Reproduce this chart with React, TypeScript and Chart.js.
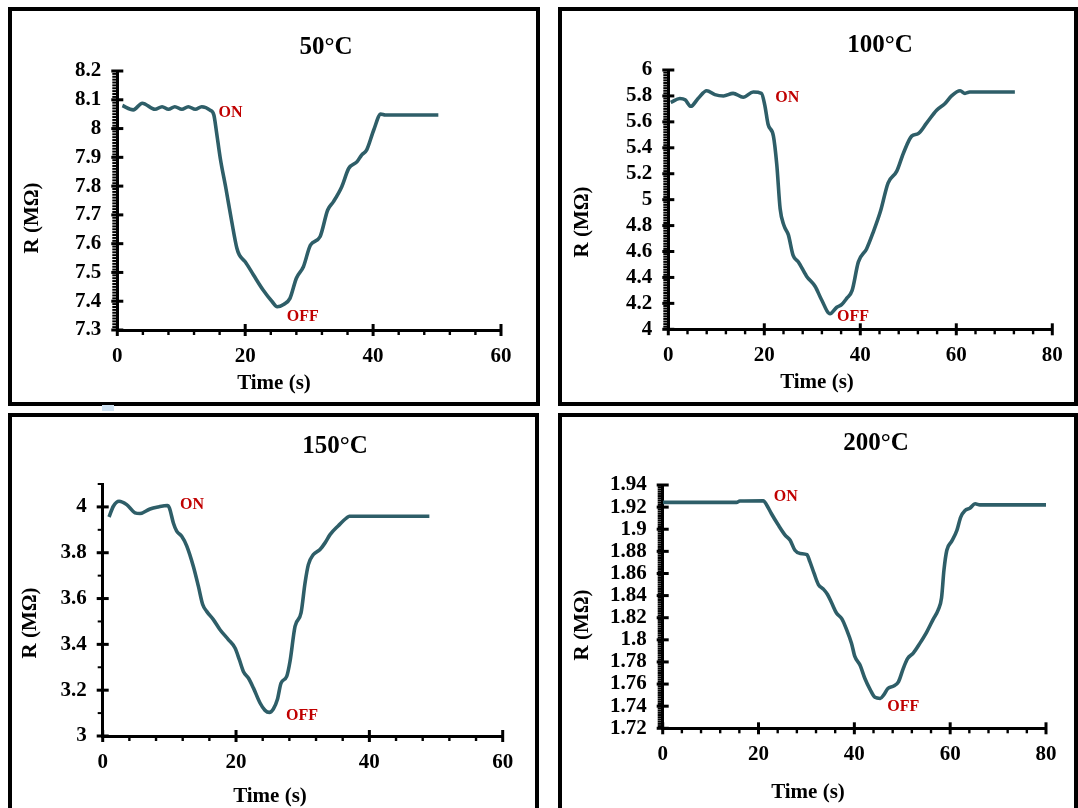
import React, { useEffect, useRef } from "react";
import { Chart, registerables } from "chart.js";

Chart.register(...registerables);

// ---------- data ----------
const time50 = [0.8, 2.5, 3.9, 5.9, 7.0, 8.0, 9.0, 10.1, 11.1, 12.2, 13.2, 14.5, 15.1, 15.5, 16.1, 17.0, 17.9, 18.7, 19.1, 20.0, 21.3, 22.8, 24.2, 25.0, 26.0, 27.0, 28.0, 29.1, 30.2, 31.7, 32.9, 33.8, 35.1, 36.2, 37.5, 38.2, 39.0, 40.1, 41.2, 41.9, 50.2];
const res50 = [8.08, 8.065, 8.088, 8.067, 8.076, 8.067, 8.076, 8.067, 8.076, 8.067, 8.076, 8.064, 8.047, 7.99, 7.897, 7.79, 7.676, 7.584, 7.56, 7.537, 7.491, 7.439, 7.399, 7.381, 7.389, 7.41, 7.48, 7.52, 7.595, 7.624, 7.717, 7.746, 7.798, 7.862, 7.885, 7.908, 7.926, 7.995, 8.05, 8.047, 8.047];

const time100 = [0.5, 2.4, 3.5, 4.7, 6.2, 8.0, 9.7, 11.5, 13.5, 15.6, 17.7, 19.4, 20.1, 20.8, 21.9, 22.6, 23.3, 24.1, 25.0, 26.0, 27.1, 28.8, 30.6, 31.9, 33.7, 35.1, 36.1, 37.2, 38.3, 39.6, 41.3, 42.7, 44.2, 45.8, 47.6, 49.0, 50.7, 52.1, 53.8, 55.9, 57.6, 59.0, 60.8, 61.8, 62.8, 72.2];
const res100 = [5.75, 5.78, 5.77, 5.72, 5.78, 5.84, 5.81, 5.8, 5.82, 5.79, 5.83, 5.82, 5.73, 5.58, 5.49, 5.27, 4.93, 4.8, 4.73, 4.57, 4.52, 4.41, 4.33, 4.23, 4.12, 4.17, 4.19, 4.24, 4.3, 4.52, 4.62, 4.75, 4.91, 5.13, 5.22, 5.36, 5.49, 5.51, 5.59, 5.69, 5.74, 5.8, 5.84, 5.82, 5.83, 5.83];

const time150 = [0.95, 1.6, 2.45, 3.6, 4.85, 5.6, 7.1, 8.35, 9.7, 10.0, 10.6, 11.1, 11.85, 12.6, 13.6, 14.35, 15.0, 15.6, 16.6, 17.6, 18.85, 19.85, 20.5, 21.1, 21.85, 22.6, 23.6, 24.35, 25.0, 25.6, 26.2, 26.75, 27.6, 28.1, 28.85, 29.75, 30.35, 30.85, 31.6, 32.6, 33.35, 34.1, 35.35, 36.6, 37.0, 49.0];
const res150 = [3.956, 4.003, 4.025, 4.01, 3.974, 3.971, 3.991, 4.0, 4.006, 3.996, 3.93, 3.894, 3.872, 3.83, 3.74, 3.654, 3.574, 3.544, 3.508, 3.464, 3.421, 3.384, 3.333, 3.282, 3.253, 3.21, 3.144, 3.112, 3.103, 3.118, 3.159, 3.231, 3.26, 3.326, 3.479, 3.537, 3.668, 3.748, 3.792, 3.814, 3.843, 3.879, 3.918, 3.952, 3.959, 3.959];

const time200 = [0, 15.4, 16.1, 21.0, 21.7, 22.7, 24.1, 25.5, 26.6, 27.6, 28.7, 30.1, 30.7, 31.6, 32.5, 33.5, 34.4, 35.3, 36.3, 37.4, 38.4, 39.4, 40.1, 41.2, 42.2, 43.3, 44.3, 45.4, 46.1, 47.0, 48.1, 49.2, 50.2, 51.1, 52.3, 53.7, 55.1, 56.5, 57.5, 58.2, 58.7, 59.3, 60.3, 61.4, 62.2, 63.1, 64.1, 65.2, 66.2, 80.0];
const res200 = [1.9243, 1.9243, 1.9255, 1.9258, 1.922, 1.914, 1.904, 1.895, 1.89, 1.881, 1.878, 1.877, 1.871, 1.86, 1.85, 1.846, 1.841, 1.833, 1.824, 1.819, 1.809, 1.797, 1.785, 1.777, 1.765, 1.755, 1.748, 1.747, 1.75, 1.756, 1.758, 1.762, 1.774, 1.783, 1.788, 1.797, 1.807, 1.819, 1.827, 1.838, 1.863, 1.881, 1.889, 1.899, 1.911, 1.917, 1.919, 1.923, 1.922, 1.922];

const titles = ["50°C", "100°C", "150°C", "200°C"];
const xAxisTitle = "Time (s)";
const yAxisTitle = "R (MΩ)";
const onLabel = "ON";
const offLabel = "OFF";

// ---------- styling / layout ----------
const LINE_COLOR = "#2E5E68";
const MARK_COLOR = "#C00000";
const SERIF = '"Liberation Serif", "Times New Roman", serif';
const TICK_FONT = { family: SERIF, size: 21, weight: "bold" as const };
const TITLE_FONT = `bold 25px ${SERIF}`;
const AXIS_FONT = `bold 21px ${SERIF}`;
const MARK_FONT = `bold 16px ${SERIF}`;
const Y_AXIS_W = 80;
const X_AXIS_H = 50;

type Range = { min: number; max: number; major: number; minor: number };
type PanelCfg = {
  times: number[];
  values: number[];
  title: string;
  box: { l: number; t: number; w: number; h: number };
  area: { l: number; t: number; r: number; b: number };
  x: Range;
  y: Range;
  titlePos: [number, number];
  xTitlePos: [number, number];
  yTitlePos: [number, number];
  onAt: [number, number];
  offAt: [number, number];
};

const panels: PanelCfg[] = [
  {
    times: time50, values: res50, title: titles[0],
    box: { l: 8, t: 7, w: 532, h: 399 },
    area: { l: 117.3, t: 71, r: 501, b: 330 },
    x: { min: 0, max: 60, major: 20, minor: 4 },
    y: { min: 7.3, max: 8.2, major: 0.1, minor: 0.01 },
    titlePos: [326, 48], xTitlePos: [274, 384], yTitlePos: [33, 218],
    onAt: [17.7, 8.053], offAt: [29.0, 7.344],
  },
  {
    times: time100, values: res100, title: titles[1],
    box: { l: 558, t: 7, w: 520, h: 399 },
    area: { l: 668.3, t: 70, r: 1052.3, b: 329.3 },
    x: { min: 0, max: 80, major: 20, minor: 4 },
    y: { min: 4, max: 6, major: 0.2, minor: 0.02 },
    titlePos: [880, 46], xTitlePos: [817, 383], yTitlePos: [583, 222],
    onAt: [24.8, 5.788], offAt: [38.5, 4.097],
  },
  {
    times: time150, values: res150, title: titles[2],
    box: { l: 8, t: 413, w: 531, h: 400 },
    area: { l: 102.7, t: 484, r: 502.7, b: 736 },
    x: { min: 0, max: 60, major: 20, minor: 4 },
    y: { min: 3, max: 4.1, major: 0.2, minor: 0.1 },
    titlePos: [335, 447], xTitlePos: [270, 797], yTitlePos: [31, 623],
    onAt: [13.4, 4.007], offAt: [29.9, 3.09],
  },
  {
    times: time200, values: res200, title: titles[3],
    box: { l: 558, t: 413, w: 520, h: 400 },
    area: { l: 662.7, t: 485, r: 1046, b: 728.3 },
    x: { min: 0, max: 80, major: 20, minor: 4 },
    y: { min: 1.72, max: 1.94, major: 0.02, minor: 0.002 },
    titlePos: [876, 444], xTitlePos: [808, 793], yTitlePos: [583, 625],
    onAt: [25.7, 1.9296], offAt: [50.2, 1.7396],
  },
];

function isMult(d: number, step: number) {
  const r = d / step;
  return Math.abs(r - Math.round(r)) < 1e-6;
}

function fmt(v: number) {
  return String(parseFloat(v.toFixed(4)));
}

function ChartPanel({ p }: { p: PanelCfg }) {
  const ref = useRef<HTMLCanvasElement | null>(null);

  useEffect(() => {
    const canvas = ref.current;
    if (!canvas) return;
    const { box, area } = p;

    const deco = {
      id: "deco",
      afterDraw(chart: any) {
        const ctx = chart.ctx as CanvasRenderingContext2D;
        const xs = chart.scales.x;
        const ys = chart.scales.y;
        const a = chart.chartArea;
        ctx.save();
        ctx.strokeStyle = "#000";
        // x ticks
        const nx = Math.round((p.x.max - p.x.min) / p.x.minor);
        for (let i = 0; i <= nx; i++) {
          const v = p.x.min + i * p.x.minor;
          const major = isMult(v - p.x.min, p.x.major);
          const px = xs.getPixelForValue(v);
          ctx.lineWidth = major ? 3 : 2.4;
          ctx.beginPath();
          ctx.moveTo(px, a.bottom - (major ? 6 : 0));
          ctx.lineTo(px, a.bottom + (major ? 6 : 5));
          ctx.stroke();
        }
        // y ticks
        const ny = Math.round((p.y.max - p.y.min) / p.y.minor);
        for (let i = 0; i <= ny; i++) {
          const v = p.y.min + i * p.y.minor;
          const major = isMult(v - p.y.min, p.y.major);
          const py = ys.getPixelForValue(v);
          ctx.lineWidth = major ? 3 : 2;
          ctx.beginPath();
          ctx.moveTo(a.left + (major ? 6 : 0), py);
          ctx.lineTo(a.left - (major ? 6 : 5), py);
          ctx.stroke();
        }
        // texts
        ctx.fillStyle = "#000";
        ctx.textAlign = "center";
        ctx.textBaseline = "middle";
        ctx.font = TITLE_FONT;
        ctx.fillText(p.title, p.titlePos[0] - box.l, p.titlePos[1] - box.t);
        ctx.font = AXIS_FONT;
        ctx.fillText(xAxisTitle, p.xTitlePos[0] - box.l, p.xTitlePos[1] - box.t);
        ctx.save();
        ctx.translate(p.yTitlePos[0] - box.l, p.yTitlePos[1] - box.t);
        ctx.rotate(-Math.PI / 2);
        ctx.fillText(yAxisTitle, 0, 0);
        ctx.restore();
        ctx.fillStyle = MARK_COLOR;
        ctx.font = MARK_FONT;
        ctx.fillText(onLabel, xs.getPixelForValue(p.onAt[0]), ys.getPixelForValue(p.onAt[1]));
        ctx.fillText(offLabel, xs.getPixelForValue(p.offAt[0]), ys.getPixelForValue(p.offAt[1]));
        ctx.restore();
      },
    };

    const padLeft = area.l - box.l - Y_AXIS_W;
    const padRight = box.w - (area.r - box.l);
    const padTop = area.t - box.t;
    const padBottom = box.h - (area.b - box.t) - X_AXIS_H;

    const chart = new Chart(canvas, {
      type: "line",
      data: {
        datasets: [
          {
            data: p.times.map((t, i) => ({ x: t, y: p.values[i] })),
            borderColor: LINE_COLOR,
            borderWidth: 3.6,
            pointRadius: 0,
            cubicInterpolationMode: "monotone",
            fill: false,
          },
        ],
      },
      options: {
        responsive: false,
        animation: false,
        devicePixelRatio: 1,
        events: [],
        layout: { padding: { left: padLeft, right: padRight, top: padTop, bottom: padBottom } },
        plugins: { legend: { display: false }, tooltip: { enabled: false }, title: { display: false } },
        scales: {
          x: {
            type: "linear",
            min: p.x.min,
            max: p.x.max,
            bounds: "data",
            grid: { display: false, drawTicks: true, tickLength: 6 },
            border: { display: true, color: "#000", width: 3 },
            ticks: {
              stepSize: p.x.major,
              autoSkip: false,
              maxRotation: 0,
              padding: 8,
              color: "#000",
              font: TICK_FONT,
              callback: (v: any) => (isMult(Number(v) - p.x.min, p.x.major) ? fmt(Number(v)) : ""),
            },
            afterFit: (s: any) => {
              s.height = X_AXIS_H;
            },
          },
          y: {
            type: "linear",
            min: p.y.min,
            max: p.y.max,
            bounds: "data",
            grid: { display: false, drawTicks: true, tickLength: 6 },
            border: { display: true, color: "#000", width: 3 },
            ticks: {
              stepSize: p.y.major,
              autoSkip: false,
              padding: 10,
              color: "#000",
              font: TICK_FONT,
              callback: (v: any) => (isMult(Number(v) - p.y.min, p.y.major) ? fmt(Number(v)) : ""),
            },
            afterFit: (s: any) => {
              s.width = Y_AXIS_W;
            },
          },
        },
      } as any,
      plugins: [deco],
    });
    return () => chart.destroy();
  }, [p]);

  const { box } = p;
  return (
    <>
      <canvas
        ref={ref}
        width={box.w}
        height={box.h}
        style={{ position: "absolute", left: box.l, top: box.t, width: box.w, height: box.h, display: "block" }}
      />
      <div
        style={{
          position: "absolute",
          left: box.l,
          top: box.t,
          width: box.w,
          height: box.h,
          boxSizing: "border-box",
          border: "4px solid #000",
          pointerEvents: "none",
        }}
      />
    </>
  );
}

export default function App() {
  return (
    <div
      style={{
        position: "absolute",
        left: 0,
        top: 0,
        width: 1078,
        height: 808,
        overflow: "hidden",
        background: "#fff",
      }}
    >
      {panels.map((p, i) => (
        <ChartPanel key={i} p={p} />
      ))}
      <div style={{ position: "absolute", left: 102, top: 405, width: 12, height: 6, background: "#CFE2F3" }} />
    </div>
  );
}
